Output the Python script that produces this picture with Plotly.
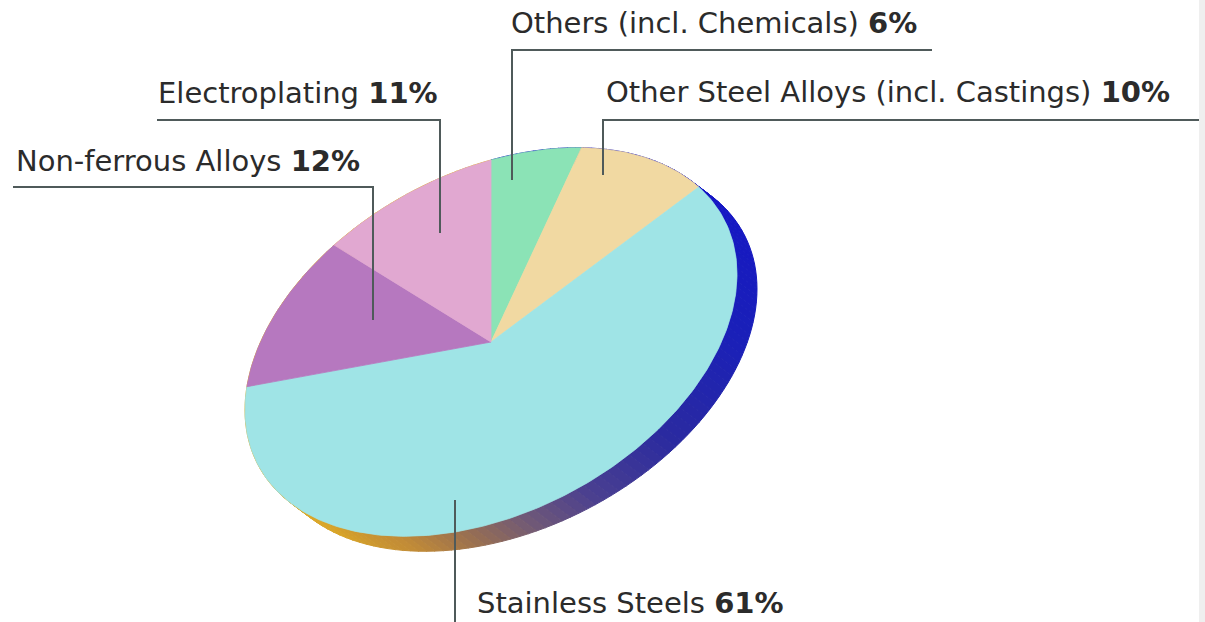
import numpy as np
import plotly.graph_objects as go

# Share of consumption by end use (percent)
categories = [
    "Others (incl. Chemicals)",
    "Other Steel Alloys (incl. Castings)",
    "Stainless Steels",
    "Non-ferrous Alloys",
    "Electroplating",
]
shares = [6, 10, 61, 12, 11]

slice_colors = ["#8be3b6", "#f1d9a2", "#9fe4e6", "#b678bf", "#e1a8d1"]

# Tilted-disc geometry (pixel space of the plot area)
center = np.array([491.0, 342.0])
axis_a = np.array([0.0, -182.0])
axis_b = np.array([246.0, -68.0])
depth = np.array([20.0, 15.0])

# Side-band shading along the rim: (fraction, colour)
side_stops = [
    (0.14, (20, 20, 200)),
    (0.30, (26, 32, 184)),
    (0.38, (42, 42, 160)),
    (0.44, (74, 63, 144)),
    (0.48, (110, 88, 120)),
    (0.52, (154, 112, 80)),
    (0.56, (192, 138, 56)),
    (0.62, (216, 164, 40)),
    (0.70, (224, 176, 48)),
]


def rim(frac):
    t = 2 * np.pi * np.asarray(frac)
    return (center[:, None] + axis_a[:, None] * np.cos(t) + axis_b[:, None] * np.sin(t))


def side_color(f):
    fs = [s[0] for s in side_stops]
    rgb = [np.interp(f, fs, [s[1][k] for s in side_stops]) for k in range(3)]
    return "rgb(%d,%d,%d)" % tuple(int(round(v)) for v in rgb)


fig = go.Figure()

# Side band of the disc
edges = np.linspace(0, 1, 181)
for f0, f1 in zip(edges[:-1], edges[1:]):
    p = rim([f0, f1])
    xs = [p[0, 0], p[0, 1], p[0, 1] + depth[0], p[0, 0] + depth[0], p[0, 0]]
    ys = [p[1, 0], p[1, 1], p[1, 1] + depth[1], p[1, 0] + depth[1], p[1, 0]]
    c = side_color(0.5 * (f0 + f1))
    fig.add_trace(go.Scatter(x=xs, y=ys, mode="lines", fill="toself",
                             fillcolor=c, line=dict(color=c, width=1),
                             hoverinfo="skip", showlegend=False))

# Top face slices
bounds = np.concatenate([[0], np.cumsum(shares)]) / np.sum(shares)
for name, share, col, f0, f1 in zip(categories, shares, slice_colors, bounds[:-1], bounds[1:]):
    n = max(int((f1 - f0) * 400), 8)
    p = rim(np.linspace(f0, f1, n))
    xs = np.concatenate([[center[0]], p[0], [center[0]]])
    ys = np.concatenate([[center[1]], p[1], [center[1]]])
    fig.add_trace(go.Scatter(x=xs, y=ys, mode="lines", fill="toself",
                             fillcolor=col, line=dict(color=col, width=0.8),
                             name=name, hovertemplate=f"{name}: {share}%<extra></extra>",
                             showlegend=False))

# Leader lines and labels
leaders = {
    "Others (incl. Chemicals)": "M 932,50 H 512 V 180",
    "Other Steel Alloys (incl. Castings)": "M 1199,120 H 603 V 175",
    "Electroplating": "M 157,120 H 440 V 233",
    "Non-ferrous Alloys": "M 13,187 H 373 V 320",
    "Stainless Steels": "M 455,500 V 622",
}
label_pos = {
    "Others (incl. Chemicals)": (509, 42.5),
    "Other Steel Alloys (incl. Castings)": (604, 111.5),
    "Electroplating": (156, 111.5),
    "Non-ferrous Alloys": (14, 179.5),
    "Stainless Steels": (475, 621.5),
}

shapes = [dict(type="rect", xref="x", yref="y", x0=1199, x1=1205, y0=0, y1=622,
               fillcolor="#efefef", line=dict(width=0), layer="below")]
annotations = []
for name, share in zip(categories, shares):
    shapes.append(dict(type="path", xref="x", yref="y", path=leaders[name],
                       line=dict(color="#4f5a5a", width=2), layer="above"))
    x, y = label_pos[name]
    annotations.append(dict(x=x, y=y, xref="x", yref="y", xanchor="left", yanchor="bottom",
                            text=f"{name} <b>{share}%</b>", showarrow=False,
                            font=dict(family="DejaVu Sans", size=29, color="#2b2b2b")))

fig.update_layout(
    width=1205, height=622, autosize=False,
    margin=dict(l=0, r=0, t=0, b=0),
    paper_bgcolor="white", plot_bgcolor="white",
    xaxis=dict(range=[0, 1205], visible=False, fixedrange=True),
    yaxis=dict(range=[622, 0], visible=False, fixedrange=True),
    shapes=shapes, annotations=annotations,
)

fig.write_html("out.html")
